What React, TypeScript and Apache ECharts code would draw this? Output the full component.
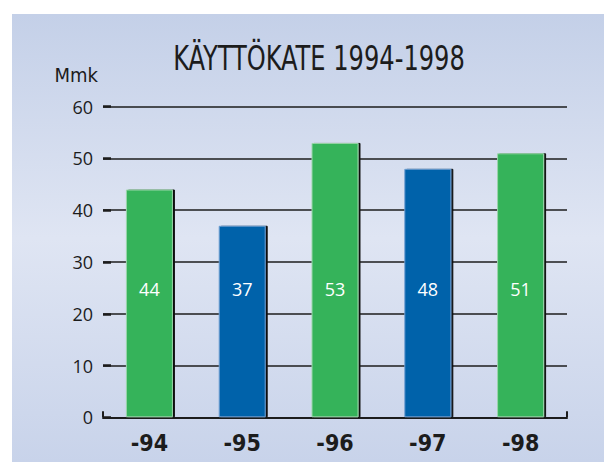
import React, { useEffect, useRef } from "react";
import * as echarts from "echarts";

const categories = ["-94", "-95", "-96", "-97", "-98"];
const values = [44, 37, 53, 48, 51];
const barColors = ["#34b35a", "#0062aa", "#34b35a", "#0062aa", "#34b35a"];
const edgeColors = ["#9bd6aa", "#6e9fd2", "#9bd6aa", "#6e9fd2", "#9bd6aa"];
const yTicks = { min: 0, max: 60, interval: 10 };
const titleText = "KÄYTTÖKATE 1994-1998";
const unitText = "Mmk";

const NARROW = "'DejaVu Sans Condensed', sans-serif";
const HUMAN = "'Open Sans', 'Noto Sans', sans-serif";

export default function App() {
  const ref = useRef<HTMLDivElement>(null);
  useEffect(() => {
    document.body.style.margin = "0";
    const chart = echarts.init(ref.current!, null, { renderer: "svg" });
    chart.setOption({
      animation: false,
      backgroundColor: "#ffffff",
      graphic: [
        {
          type: "rect",
          z: -10,
          shape: { x: 12, y: 14, width: 592, height: 448 },
          style: {
            fill: new echarts.graphic.LinearGradient(0, 0, 0, 1, [
              { offset: 0, color: "#c4d0e8" },
              { offset: 0.5, color: "#dfe5f3" },
              { offset: 1, color: "#c8d3ea" },
            ]),
          },
          silent: true,
        },
        {
          type: "text",
          x: 319,
          y: 58,
          scaleX: 0.79,
          silent: true,
          style: {
            text: titleText,
            x: 0,
            y: 0,
            textAlign: "center",
            textVerticalAlign: "middle",
            fontFamily: NARROW,
            fontSize: 34,
            fill: "#1c1c1c",
          },
        },
      ],
      grid: { left: 103, right: 37, top: 106.7, bottom: 44.7 },
      xAxis: {
        type: "category",
        data: categories,
        axisLine: { show: true, lineStyle: { color: "#1c1c1c", width: 2 } },
        axisTick: {
          show: true,
          inside: true,
          length: 6,
          interval: (i: number) => i === 0,
          lineStyle: { color: "#1c1c1c", width: 2 },
        },
        axisLabel: {
          margin: 14,
          fontFamily: NARROW,
          fontSize: 23,
          fontWeight: "bold",
          color: "#1c1c1c",
        },
      },
      yAxis: {
        type: "value",
        min: yTicks.min,
        max: yTicks.max,
        interval: yTicks.interval,
        name: unitText,
        nameLocation: "end",
        nameGap: 22,
        nameTextStyle: {
          align: "right",
          padding: [0, 5, 0, 0],
          fontFamily: NARROW,
          fontSize: 20,
          color: "#1c1c1c",
        },
        axisLine: { show: false },
        axisTick: {
          show: true,
          inside: true,
          length: 8,
          lineStyle: { color: "#1c1c1c", width: 2.5 },
        },
        splitLine: { show: true, lineStyle: { color: "#1c1c1c", width: 1.5 } },
        axisLabel: {
          margin: 10,
          fontFamily: HUMAN,
          fontSize: 18,
          color: "#1c1c1c",
        },
      },
      series: [
        {
          type: "bar",
          barWidth: 47,
          data: values.map((v, i) => ({
            value: v,
            itemStyle: {
              color: barColors[i],
              borderColor: edgeColors[i],
              borderWidth: 1,
              shadowColor: "#111111",
              shadowOffsetX: 2,
              shadowOffsetY: 0,
              shadowBlur: 0,
            },
          })),
          label: {
            show: true,
            position: "insideBottom",
            distance: 119,
            color: "#ffffff",
            fontFamily: HUMAN,
            fontSize: 18,
          },
        },
      ],
    });
    return () => chart.dispose();
  }, []);
  return (
    <div
      ref={ref}
      style={{ position: "absolute", left: 0, top: 0, width: 604, height: 462 }}
    />
  );
}
